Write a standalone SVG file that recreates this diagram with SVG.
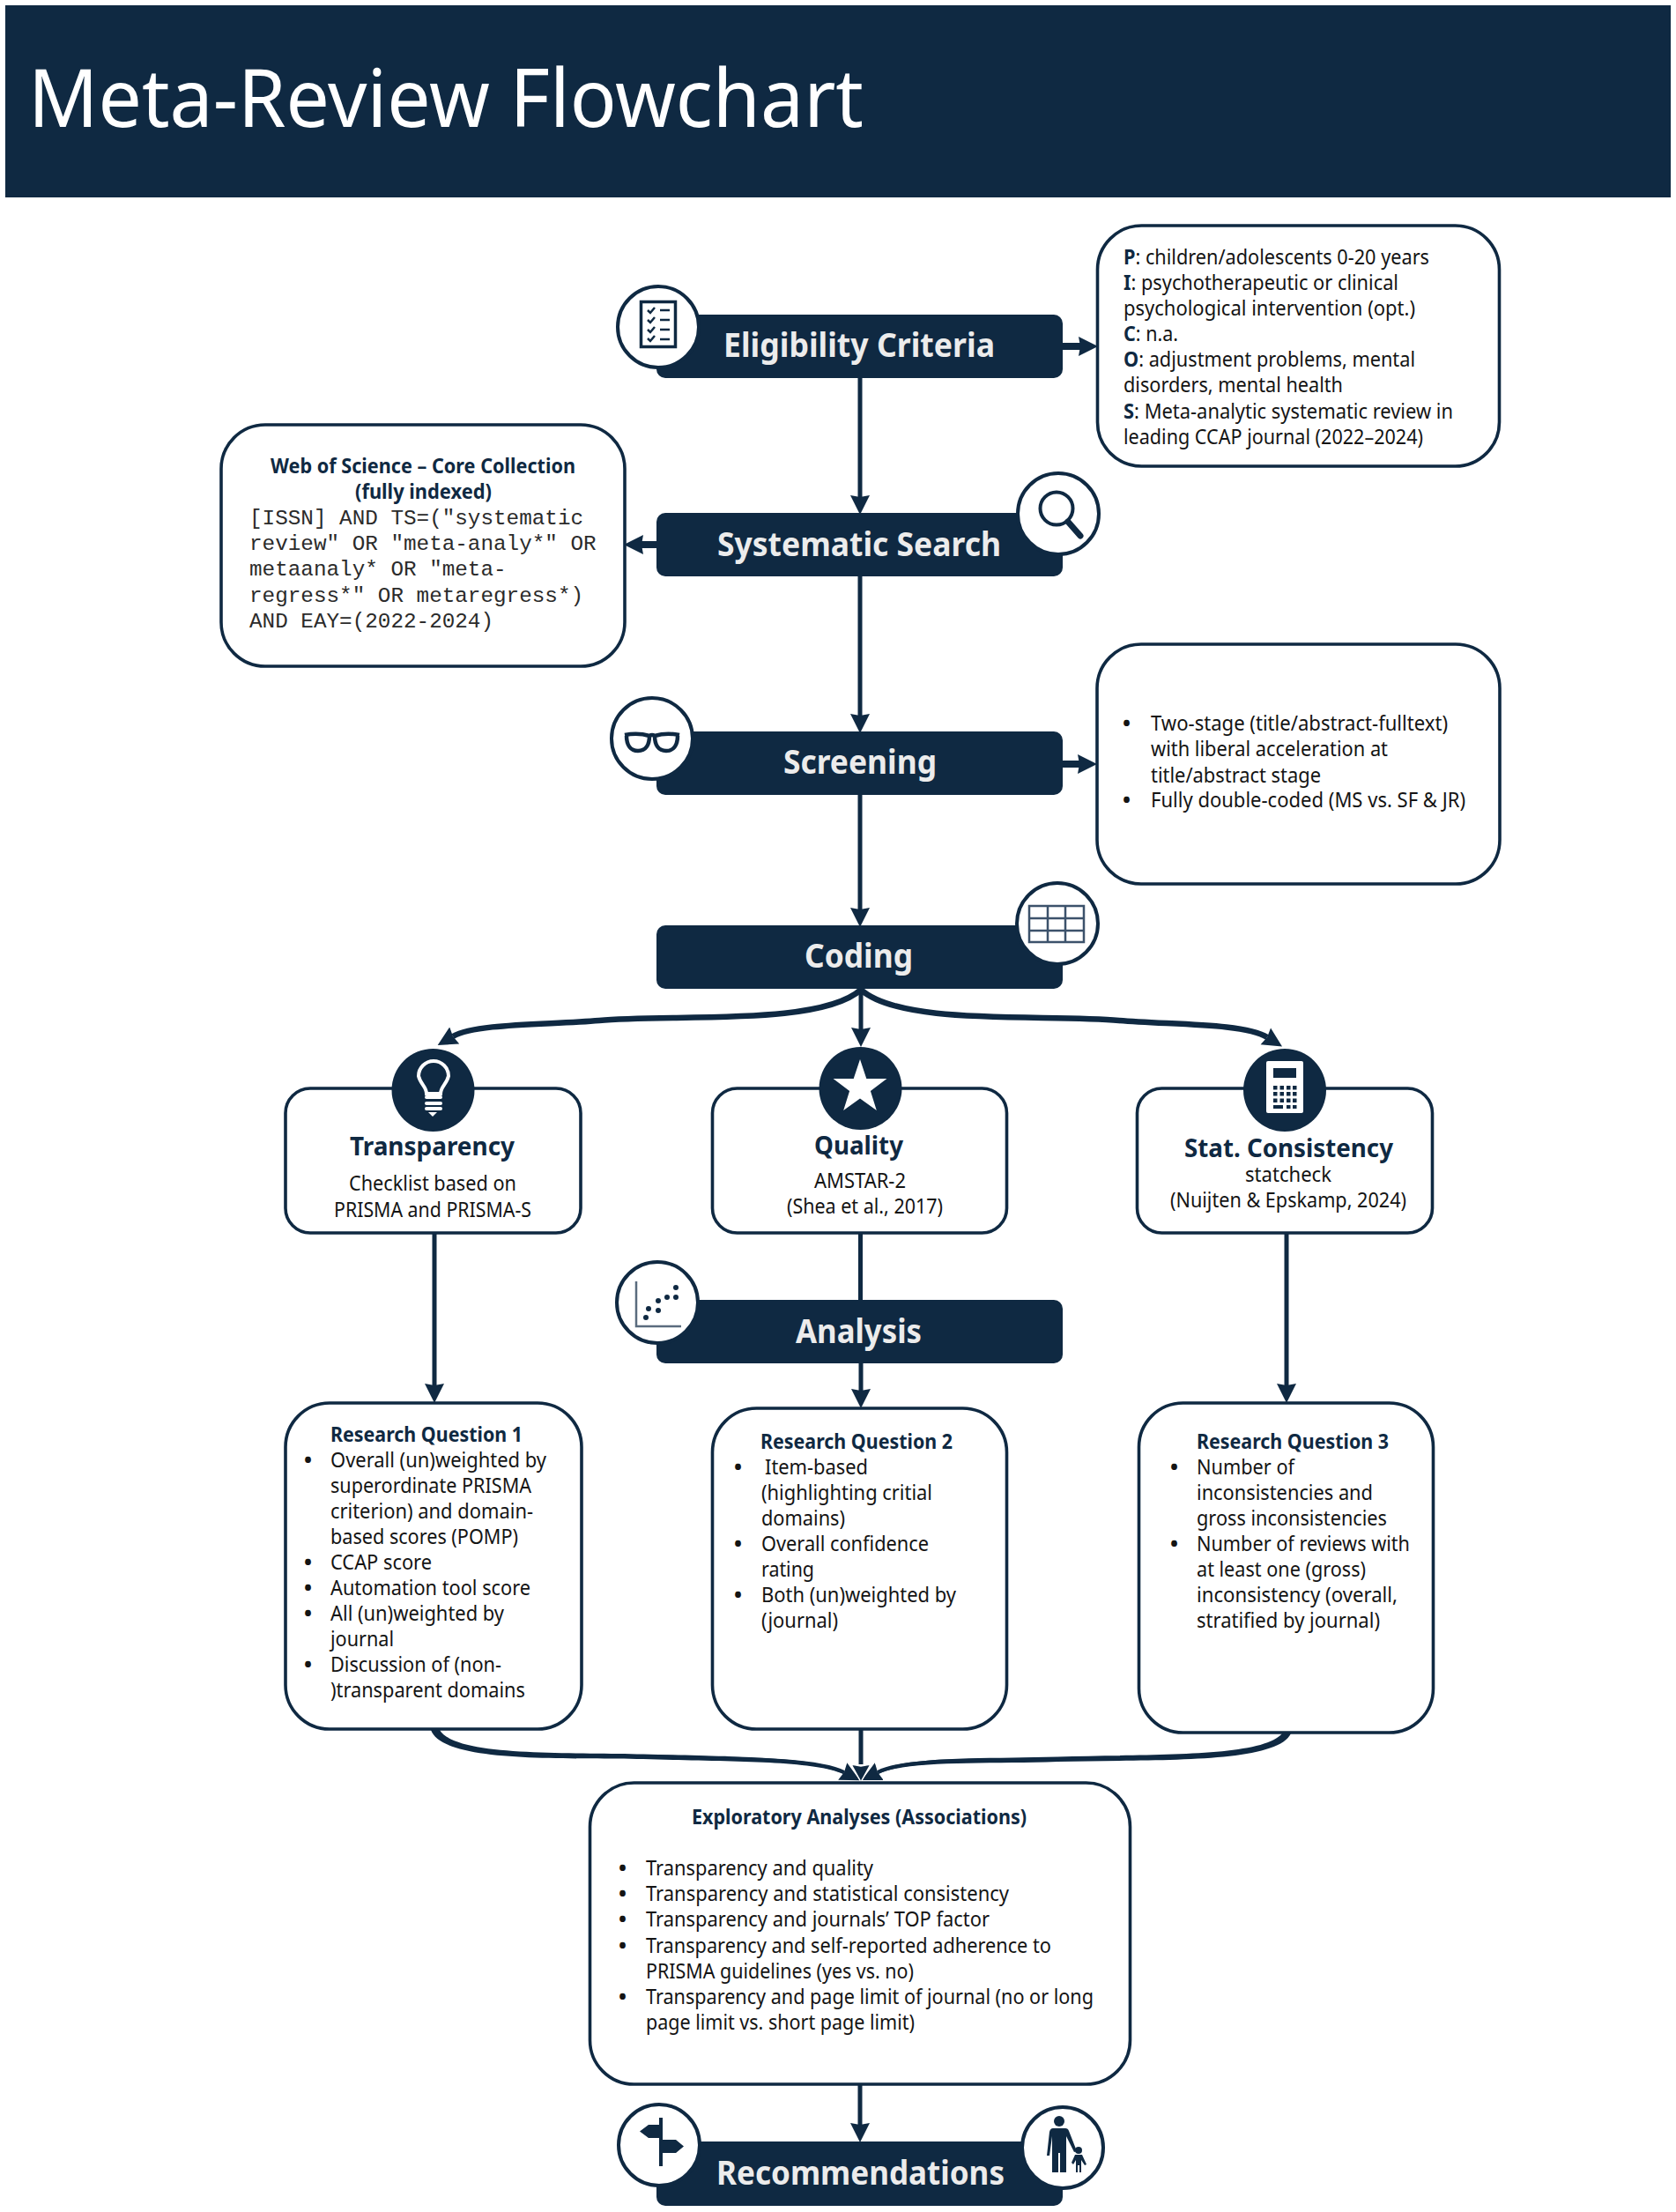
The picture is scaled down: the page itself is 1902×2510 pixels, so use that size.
<svg xmlns="http://www.w3.org/2000/svg" width="1902" height="2510" viewBox="0 0 1902 2510">
<style>
text{font-family:"Noto Sans","Liberation Sans",sans-serif;font-size:23px;fill:#141414;white-space:pre}
.bar{fill:#0f2942}
.box{fill:#fff;stroke:#0f2942;stroke-width:3.6}
.ring{fill:#fff;stroke:#0f2942;stroke-width:4}
.lbl{font-size:37px;font-weight:700;fill:#ececec}
.hd{font-weight:700;fill:#0f2942}
.hd2{font-size:29px;font-weight:700;fill:#0f2942}
.bu{font-weight:700;font-size:24px}
.mono{font-family:"Liberation Mono",monospace;font-size:24.3px;fill:#2b2b2b}
.b{font-weight:700;fill:#0f2942}
.ln{fill:none;stroke:#0f2942;stroke-width:5}
.fat{fill:none;stroke:#0f2942;stroke-width:8}
.cv{fill:none;stroke:#0f2942;stroke-width:6.5}
.thin{fill:none;stroke:#0f2942;stroke-width:4}
.tb{fill:none;stroke:#3c526b;stroke-width:2.5}
.wh{fill:#fff}
</style>
<defs>
<marker id="a" markerUnits="userSpaceOnUse" markerWidth="22" markerHeight="24" refX="2" refY="12" orient="auto" viewBox="0 0 22 24"><polygon points="0,1 22,12 0,23 2,12" fill="#0f2942"/></marker>
<marker id="w" markerUnits="userSpaceOnUse" markerWidth="24" markerHeight="26" refX="2" refY="13" orient="auto" viewBox="0 0 24 26"><polygon points="2,2 22,13 2,24 4,13" fill="#0f2942" stroke="#fff" stroke-width="1.5"/></marker>
</defs>
<rect x="0" y="0" width="1902" height="2510" fill="#fff"/>
<g id="header"><rect x="6" y="6" width="1890" height="218" class="bar"/><text x="32" y="144" textLength="948" lengthAdjust="spacingAndGlyphs" style="font-size:91px;fill:#fff">Meta-Review Flowchart</text></g>

<g id="connectors">
<path class="ln" d="M976 429V564" marker-end="url(#a)"/>
<path class="ln" d="M976 654V812" marker-end="url(#a)"/>
<path class="ln" d="M976 902V1032" marker-end="url(#a)"/>
<path class="ln" d="M977 1122V1168" marker-end="url(#a)"/>
<path class="cv" d="M977 1123C930 1165 760 1150 680 1158C620 1163 540 1161 514 1176" marker-end="url(#a)"/>
<path class="cv" d="M977 1123C1024 1165 1190 1150 1270 1158C1330 1163 1412 1161 1438 1177" marker-end="url(#a)"/>
<path class="ln" d="M493 1400V1572" marker-end="url(#a)"/>
<path class="ln" d="M976.500 1400V1475"/>
<path class="ln" d="M977 1547V1578" marker-end="url(#a)"/>
<path class="ln" d="M1460 1400V1572" marker-end="url(#a)"/>
<path class="bar" d="M499 1963C517 1994 650 1988 730 1990.500C820 1993 925 1993 958 2010L957 2013C925 1997 820 1999 730 1996C640 1994 503 2001 489 1963Z"/>
<path class="thin" d="M730 1993C820 1996 925 1994 958 2011" marker-end="url(#a)"/>
<path class="bar" d="M1455 1967C1432 1995 1300 1990 1200 1993.500C1120 1996 1030 1992 996 2010L997 2013C1030 1997 1120 2002 1200 1999C1300 1996 1448 2003 1465 1967Z"/>
<path class="thin" d="M1200 1996C1120 1999 1030 1994 996 2011" marker-end="url(#a)"/>
<path class="ln" d="M977 1963V2002" marker-end="url(#w)"/>
<path class="ln" d="M976 2366V2411" marker-end="url(#a)"/>
<path class="fat" d="M1206 393H1226" marker-end="url(#a)"/>
<path class="fat" d="M745 618H728" marker-end="url(#a)"/>
<path class="fat" d="M1206 867H1225" marker-end="url(#a)"/>
</g>

<g id="eligibility"><rect x="745" y="357" width="461" height="72" rx="10" class="bar"/><circle cx="747" cy="371" r="46" class="ring"/>
<rect x="727.500" y="342.500" width="39" height="51" fill="none" stroke="#0f2942" stroke-width="3.500"/>
<path d="M735 352l3 3 5-6M735 363l3 3 5-6M735 374l3 3 5-6M735 384l3 3 5-6" fill="none" stroke="#0f2942" stroke-width="2.500"/>
<path d="M749 352h11M749 363h11M749 374h11M749 385h11" fill="none" stroke="#0f2942" stroke-width="2.500"/>
<text class="lbl" x="821" y="405" textLength="308" lengthAdjust="spacingAndGlyphs">Eligibility Criteria</text></g>

<g id="pico"><rect x="1245.500" y="256" width="456" height="273" rx="50" class="box"/>
<text x="1275" y="299.500" textLength="347" lengthAdjust="spacingAndGlyphs"><tspan class="b">P</tspan>: children/adolescents 0-20 years</text>
<text x="1275" y="328.500" textLength="312" lengthAdjust="spacingAndGlyphs"><tspan class="b">I</tspan>: psychotherapeutic or clinical</text>
<text x="1275" y="358" textLength="331" lengthAdjust="spacingAndGlyphs">psychological intervention (opt.)</text>
<text x="1275" y="387" textLength="62" lengthAdjust="spacingAndGlyphs"><tspan class="b">C</tspan>: n.a.</text>
<text x="1275" y="416" textLength="331" lengthAdjust="spacingAndGlyphs"><tspan class="b">O</tspan>: adjustment problems, mental</text>
<text x="1275" y="445" textLength="249" lengthAdjust="spacingAndGlyphs">disorders, mental health</text>
<text x="1275" y="475" textLength="374" lengthAdjust="spacingAndGlyphs"><tspan class="b">S</tspan>: Meta-analytic systematic review in</text>
<text x="1275" y="504" textLength="340" lengthAdjust="spacingAndGlyphs">leading CCAP journal (2022–2024)</text></g>

<g id="search"><rect x="745" y="582" width="461" height="72" rx="10" class="bar"/><circle cx="1201" cy="583" r="46" class="ring"/>
<circle cx="1199" cy="577" r="18.500" fill="none" stroke="#0f2942" stroke-width="4"/><path d="M1212 592L1226 608" stroke="#0f2942" stroke-width="7" stroke-linecap="round"/>
<text class="lbl" x="814" y="631" textLength="322" lengthAdjust="spacingAndGlyphs">Systematic Search</text></g>

<g id="wos"><rect x="251" y="482" width="458" height="274" rx="50" class="box"/>
<text class="hd" x="307" y="537" textLength="346" lengthAdjust="spacingAndGlyphs">Web of Science – Core Collection</text>
<text class="hd" x="403" y="566" textLength="155" lengthAdjust="spacingAndGlyphs">(fully indexed)</text>
<text class="mono" x="283" y="595">[ISSN] AND TS=("systematic</text>
<text class="mono" x="283" y="624">review" OR "meta-analy*" OR</text>
<text class="mono" x="283" y="653">metaanaly* OR "meta-</text>
<text class="mono" x="283" y="682.500">regress*" OR metaregress*)</text>
<text class="mono" x="283" y="711.500">AND EAY=(2022-2024)</text></g>

<g id="screening"><rect x="745" y="830" width="461" height="72" rx="10" class="bar"/><circle cx="740" cy="838" r="46" class="ring"/>
<path d="M709 834Q724 831 737 835Q740 833 743 835Q756 831 771 834M711 835C711 846 716 852 724 852C733 852 737 845 737 835M743 835C743 845 747 852 756 852C764 852 769 846 769 835" fill="none" stroke="#0f2942" stroke-width="4.500"/>
<text class="lbl" x="889" y="878" textLength="174" lengthAdjust="spacingAndGlyphs">Screening</text></g>

<g id="screening-note"><rect x="1245" y="731" width="457" height="272" rx="50" class="box"/>
<text class="bu" x="1274" y="829">•</text><text x="1306" y="829" textLength="337" lengthAdjust="spacingAndGlyphs">Two-stage (title/abstract-fulltext)</text>
<text x="1306" y="858" textLength="269" lengthAdjust="spacingAndGlyphs">with liberal acceleration at</text>
<text x="1306" y="888" textLength="193" lengthAdjust="spacingAndGlyphs">title/abstract stage</text>
<text class="bu" x="1274" y="916">•</text><text x="1306" y="916" textLength="357" lengthAdjust="spacingAndGlyphs">Fully double-coded (MS vs. SF &amp; JR)</text></g>

<g id="coding"><rect x="745" y="1050" width="461" height="72" rx="10" class="bar"/><circle cx="1200" cy="1048" r="46" class="ring"/>
<path class="tb" d="M1168 1028H1230V1069H1168ZM1168 1042H1230M1168 1056H1230M1189 1028V1069M1209 1028V1069"/>
<text class="lbl" x="913" y="1098" textLength="123" lengthAdjust="spacingAndGlyphs">Coding</text></g>

<g id="transparency"><rect x="324" y="1235" width="335" height="164" rx="28" class="box"/><circle cx="491.500" cy="1237" r="47" class="bar"/>
<path d="M484 1241C484 1233 477 1230 475 1221A17 17 0 1 1 509 1221C507 1230 500 1233 500 1241Z" fill="none" stroke="#fff" stroke-width="4"/>
<rect x="482" y="1243" width="20" height="4" rx="2" class="wh"/><rect x="482" y="1250" width="20" height="4" rx="2" class="wh"/><rect x="482" y="1256" width="20" height="4" rx="2" class="wh"/><polygon points="486,1262 496,1262 491,1267" class="wh"/>
<text class="hd2" x="397" y="1311" textLength="187" lengthAdjust="spacingAndGlyphs">Transparency</text>
<text x="396" y="1350.500" textLength="190" lengthAdjust="spacingAndGlyphs">Checklist based on</text>
<text x="379" y="1380.500" textLength="224" lengthAdjust="spacingAndGlyphs">PRISMA and PRISMA-S</text></g>

<g id="quality"><rect x="808.500" y="1235" width="334" height="164" rx="28" class="box"/><circle cx="976.500" cy="1235" r="47" class="bar"/>
<polygon class="wh" points="976,1202 983.300,1223.900 1006.400,1224.100 987.900,1237.900 994.800,1259.900 976,1246.500 957.200,1259.900 964.100,1237.900 945.600,1224.100 968.700,1223.900"/>
<text class="hd2" x="924" y="1310" textLength="101" lengthAdjust="spacingAndGlyphs">Quality</text>
<text x="924" y="1348" textLength="104" lengthAdjust="spacingAndGlyphs">AMSTAR-2</text>
<text x="893" y="1377" textLength="177" lengthAdjust="spacingAndGlyphs">(Shea et al., 2017)</text></g>

<g id="consistency"><rect x="1290.500" y="1235" width="335" height="164" rx="28" class="box"/><circle cx="1458" cy="1237" r="47" class="bar"/>
<rect x="1437" y="1204" width="42" height="59" rx="2" class="wh"/><rect x="1445" y="1212" width="26" height="11" class="bar"/>
<path d="M1445 1232h4.500v4.500h-4.500zM1452.500 1232h4.500v4.500h-4.500zM1460 1232h4.500v4.500h-4.500zM1467 1232h4.500v4.500h-4.500zM1445 1239h4.500v4.500h-4.500zM1452.500 1239h4.500v4.500h-4.500zM1460 1239h4.500v4.500h-4.500zM1467 1239h4.500v4.500h-4.500zM1445 1246.500h4.500v4.500h-4.500zM1452.500 1246.500h4.500v4.500h-4.500zM1460 1246.500h4.500v4.500h-4.500zM1467 1246.500h4.500v4.500h-4.500zM1445 1254h11v4h-11zM1460 1254h4.500v4h-4.500zM1467 1254h4.500v4h-4.500z" class="bar"/>
<text class="hd2" x="1344" y="1313" textLength="237" lengthAdjust="spacingAndGlyphs">Stat. Consistency</text>
<text x="1413" y="1341" textLength="98" lengthAdjust="spacingAndGlyphs">statcheck</text>
<text x="1328" y="1370" textLength="268" lengthAdjust="spacingAndGlyphs">(Nuijten &amp; Epskamp, 2024)</text></g>

<g id="analysis"><rect x="745" y="1475" width="461" height="72" rx="10" class="bar"/><circle cx="746" cy="1478" r="46" class="ring"/>
<path d="M722 1454V1505H773" fill="none" stroke="#5a6b7e" stroke-width="2.500"/>
<g class="bar"><circle cx="733" cy="1495" r="3"/><circle cx="736" cy="1485" r="3"/><circle cx="747" cy="1487" r="3"/><circle cx="747" cy="1476" r="3"/><circle cx="757" cy="1472" r="3"/><circle cx="767" cy="1472" r="3"/><circle cx="767" cy="1461" r="3"/></g>
<text class="lbl" x="903" y="1524" textLength="143" lengthAdjust="spacingAndGlyphs">Analysis</text></g>

<g id="rq1"><rect x="324" y="1592" width="336" height="370" rx="50" class="box"/>
<text class="hd" x="375" y="1636" textLength="218" lengthAdjust="spacingAndGlyphs">Research Question 1</text>
<text class="bu" x="345" y="1665">•</text><text x="375" y="1665" textLength="245" lengthAdjust="spacingAndGlyphs">Overall (un)weighted by</text>
<text x="375" y="1694" textLength="228" lengthAdjust="spacingAndGlyphs">superordinate PRISMA</text>
<text x="375" y="1723" textLength="230" lengthAdjust="spacingAndGlyphs">criterion) and domain-</text>
<text x="375" y="1752" textLength="213" lengthAdjust="spacingAndGlyphs">based scores (POMP)</text>
<text class="bu" x="345" y="1781">•</text><text x="375" y="1781" textLength="115" lengthAdjust="spacingAndGlyphs">CCAP score</text>
<text class="bu" x="345" y="1810">•</text><text x="375" y="1810" textLength="227" lengthAdjust="spacingAndGlyphs">Automation tool score</text>
<text class="bu" x="345" y="1839">•</text><text x="375" y="1839" textLength="197" lengthAdjust="spacingAndGlyphs">All (un)weighted by</text>
<text x="375" y="1868" textLength="72" lengthAdjust="spacingAndGlyphs">journal</text>
<text class="bu" x="345" y="1897">•</text><text x="375" y="1897" textLength="194" lengthAdjust="spacingAndGlyphs">Discussion of (non-</text>
<text x="375" y="1926" textLength="221" lengthAdjust="spacingAndGlyphs">)transparent domains</text></g>

<g id="rq2"><rect x="808.500" y="1598" width="334" height="364" rx="50" class="box"/>
<text class="hd" x="863" y="1644" textLength="218" lengthAdjust="spacingAndGlyphs">Research Question 2</text>
<text class="bu" x="833" y="1673">•</text><text x="868" y="1673" textLength="117" lengthAdjust="spacingAndGlyphs">Item-based</text>
<text x="864" y="1702" textLength="194" lengthAdjust="spacingAndGlyphs">(highlighting critial</text>
<text x="864" y="1731" textLength="95" lengthAdjust="spacingAndGlyphs">domains)</text>
<text class="bu" x="833" y="1760">•</text><text x="864" y="1760" textLength="190" lengthAdjust="spacingAndGlyphs">Overall confidence</text>
<text x="864" y="1789" textLength="60" lengthAdjust="spacingAndGlyphs">rating</text>
<text class="bu" x="833" y="1818">•</text><text x="864" y="1818" textLength="221" lengthAdjust="spacingAndGlyphs">Both (un)weighted by</text>
<text x="864" y="1847" textLength="87" lengthAdjust="spacingAndGlyphs">(journal)</text></g>

<g id="rq3"><rect x="1292.500" y="1592" width="334" height="374" rx="50" class="box"/>
<text class="hd" x="1358" y="1644" textLength="218" lengthAdjust="spacingAndGlyphs">Research Question 3</text>
<text class="bu" x="1328" y="1673">•</text><text x="1358" y="1673" textLength="111" lengthAdjust="spacingAndGlyphs">Number of</text>
<text x="1358" y="1702" textLength="200" lengthAdjust="spacingAndGlyphs">inconsistencies and</text>
<text x="1358" y="1731" textLength="216" lengthAdjust="spacingAndGlyphs">gross inconsistencies</text>
<text class="bu" x="1328" y="1760">•</text><text x="1358" y="1760" textLength="242" lengthAdjust="spacingAndGlyphs">Number of reviews with</text>
<text x="1358" y="1789" textLength="192" lengthAdjust="spacingAndGlyphs">at least one (gross)</text>
<text x="1358" y="1818" textLength="228" lengthAdjust="spacingAndGlyphs">inconsistency (overall,</text>
<text x="1358" y="1847" textLength="208" lengthAdjust="spacingAndGlyphs">stratified by journal)</text></g>

<g id="exploratory"><rect x="669.500" y="2023" width="613" height="342" rx="50" class="box"/>
<text class="hd" x="785" y="2070" textLength="380" lengthAdjust="spacingAndGlyphs">Exploratory Analyses (Associations)</text>
<text class="bu" x="702" y="2128">•</text><text x="733" y="2128" textLength="258" lengthAdjust="spacingAndGlyphs">Transparency and quality</text>
<text class="bu" x="702" y="2157">•</text><text x="733" y="2157" textLength="412" lengthAdjust="spacingAndGlyphs">Transparency and statistical consistency</text>
<text class="bu" x="702" y="2186">•</text><text x="733" y="2186" textLength="390" lengthAdjust="spacingAndGlyphs">Transparency and journals’ TOP factor</text>
<text class="bu" x="702" y="2216">•</text><text x="733" y="2216" textLength="460" lengthAdjust="spacingAndGlyphs">Transparency and self-reported adherence to</text>
<text x="733" y="2245" textLength="304" lengthAdjust="spacingAndGlyphs">PRISMA guidelines (yes vs. no)</text>
<text class="bu" x="702" y="2274">•</text><text x="733" y="2274" textLength="508" lengthAdjust="spacingAndGlyphs">Transparency and page limit of journal (no or long</text>
<text x="733" y="2303" textLength="305" lengthAdjust="spacingAndGlyphs">page limit vs. short page limit)</text></g>

<g id="recommendations"><rect x="745" y="2430" width="461" height="73" rx="10" class="bar"/>
<circle cx="748" cy="2434" r="46" class="ring"/><circle cx="1206" cy="2437" r="46" class="ring"/>
<path d="M748 2403h4v55h-4zM748 2411H736L726 2418.500 736 2426H748ZM752 2428H767L776 2435.500 767 2443H752Z" class="bar"/>
<circle cx="1202" cy="2407" r="6" class="bar"/><circle cx="1224" cy="2440" r="4" class="bar"/>
<path class="bar" d="M1195 2415H1209Q1212 2415 1213 2418L1222 2441 1219 2442 1210 2424V2465H1203V2443H1201V2465H1194V2424L1191 2446H1188L1191 2419Q1192 2415 1195 2415Z"/>
<path class="bar" d="M1220 2445H1228L1233 2456 1231 2457 1227 2451V2465H1225V2457H1223V2465H1221V2451L1218 2456 1216 2454Z"/>
<text class="lbl" x="813" y="2479" textLength="327" lengthAdjust="spacingAndGlyphs">Recommendations</text></g>
</svg>
